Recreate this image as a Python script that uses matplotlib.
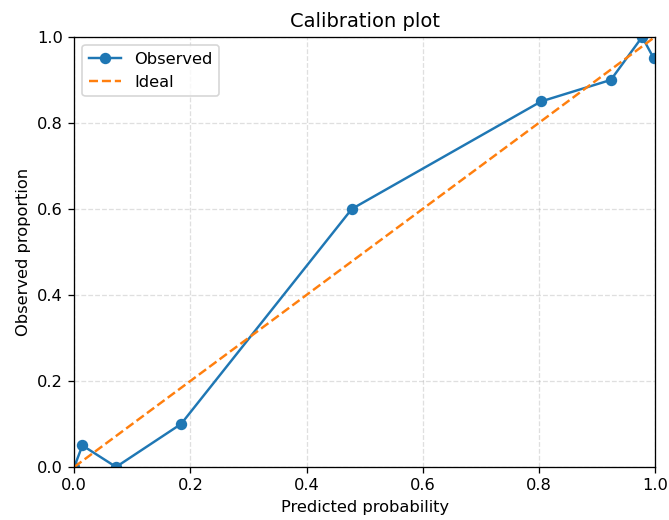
import matplotlib
matplotlib.use("Agg")
import matplotlib.pyplot as plt

# calibration data
pred_prob = [0.0, 0.014, 0.072, 0.184, 0.478, 0.804, 0.924, 0.978, 0.998]
obs_prop = [0.0, 0.05, 0.0, 0.1, 0.6, 0.85, 0.9, 1.0, 0.95]
ideal = [0.0, 1.0]

dpi = 117
fig, ax = plt.subplots(figsize=(669 / dpi, 520 / dpi), dpi=dpi)
fig.subplots_adjust(left=0.111, right=0.979, top=0.929, bottom=0.102)

ax.plot(pred_prob, obs_prop, marker="o", color="#1f77b4", label="Observed")
ax.plot(ideal, ideal, linestyle="--", color="#ff7f0e", label="Ideal")

ax.set_xlim(0, 1)
ax.set_ylim(0, 1)
ax.set_xlabel("Predicted probability")
ax.set_ylabel("Observed proportion")
ax.set_title("Calibration plot")
ax.grid(True, linestyle="--", alpha=0.4)
ax.legend(loc="upper left")

fig.savefig("out.png", dpi=dpi)
